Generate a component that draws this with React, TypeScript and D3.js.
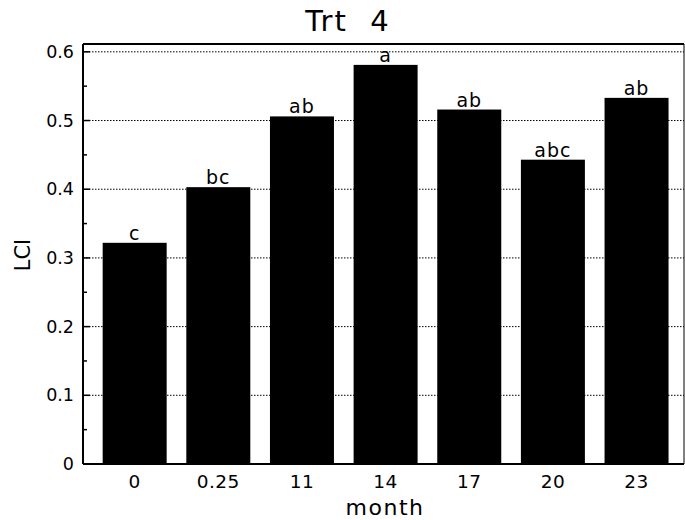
import React from "react";
import * as d3 from "d3";

const months = ["0", "0.25", "11", "14", "17", "20", "23"];
const lciValues = [0.322, 0.403, 0.506, 0.581, 0.516, 0.443, 0.533];
const letters = ["c", "bc", "ab", "a", "ab", "abc", "ab"];
const yTicks = [0, 0.1, 0.2, 0.3, 0.4, 0.5, 0.6];
const yMinorTicks = [0.05, 0.15, 0.25, 0.35, 0.45, 0.55];

const W = 685;
const H = 520;
const left = 83;
const right = 684;
const top = 44;
const bottom = 464;
const FONT = "'DejaVu Sans', Verdana, sans-serif";

export default function App() {
  const y = d3.scaleLinear().domain([0, 0.6114]).range([bottom, top]);
  const x = d3
    .scaleBand<string>()
    .domain(months)
    .range([left, right])
    .paddingInner(0.235)
    .paddingOuter(0.21)
    .align(0.56);

  return (
    <svg
      width={W}
      height={H}
      style={{ position: "absolute", left: 0, top: 0, background: "#fff" }}
    >
      {/* gridlines */}
      {yTicks.filter((t) => t > 0).map((t) => (
        <line
          key={"g" + t}
          x1={left}
          x2={right}
          y1={y(t)}
          y2={y(t)}
          stroke="#000"
          strokeWidth={1}
          strokeDasharray="1.5,1.5"
        />
      ))}
      {/* bars */}
      {months.map((m, i) => (
        <rect
          key={"b" + m}
          x={x(m)}
          y={y(lciValues[i])}
          width={x.bandwidth()}
          height={bottom - y(lciValues[i])}
          fill="#000"
        />
      ))}
      {/* letters */}
      {months.map((m, i) => (
        <text
          key={"l" + m}
          x={(x(m) as number) + x.bandwidth() / 2}
          y={y(lciValues[i]) - 3}
          textAnchor="middle"
          fontFamily={FONT}
          fontSize={19}
          letterSpacing={1}
          fill="#000"
        >
          {letters[i]}
        </text>
      ))}
      {/* frame */}
      <line x1={left} x2={right} y1={top} y2={top} stroke="#000" strokeWidth={2} />
      <line x1={right} x2={right} y1={top} y2={bottom} stroke="#000" strokeWidth={1} />
      <line x1={left} x2={left} y1={top} y2={bottom} stroke="#000" strokeWidth={2} />
      <line x1={left} x2={right} y1={bottom} y2={bottom} stroke="#000" strokeWidth={2} />
      {/* y ticks */}
      {yTicks.map((t) => (
        <g key={"t" + t}>
          <line x1={left} x2={left + 7} y1={y(t)} y2={y(t)} stroke="#000" strokeWidth={1.5} />
          <text
            x={left - 9}
            y={y(t)}
            dy="0.35em"
            textAnchor="end"
            fontFamily={FONT}
            fontSize={17.5}
            fill="#000"
          >
            {t === 0 ? "0" : d3.format(".1f")(t)}
          </text>
        </g>
      ))}
      {yMinorTicks.map((t) => (
        <line key={"m" + t} x1={left} x2={left + 4} y1={y(t)} y2={y(t)} stroke="#000" strokeWidth={1.5} />
      ))}
      {/* x tick labels */}
      {months.map((m) => (
        <text
          key={"x" + m}
          x={(x(m) as number) + x.bandwidth() / 2}
          y={488}
          textAnchor="middle"
          fontFamily={FONT}
          fontSize={18.5}
          letterSpacing={0.5}
          fill="#000"
        >
          {m}
        </text>
      ))}
      {/* axis titles */}
      <text x={385} y={515} textAnchor="middle" fontFamily={FONT} fontSize={22} letterSpacing={1.5} fill="#000">
        month
      </text>
      <text
        transform={`translate(30,${255}) rotate(-90)`}
        textAnchor="middle"
        fontFamily={FONT}
        fontSize={21}
        fill="#000"
      >
        LCI
      </text>
      <text x={348} y={31} textAnchor="middle" fontFamily={FONT} fontSize={29} letterSpacing={2} style={{ whiteSpace: "pre" }} fill="#000">
        {"Trt  4"}
      </text>
    </svg>
  );
}
